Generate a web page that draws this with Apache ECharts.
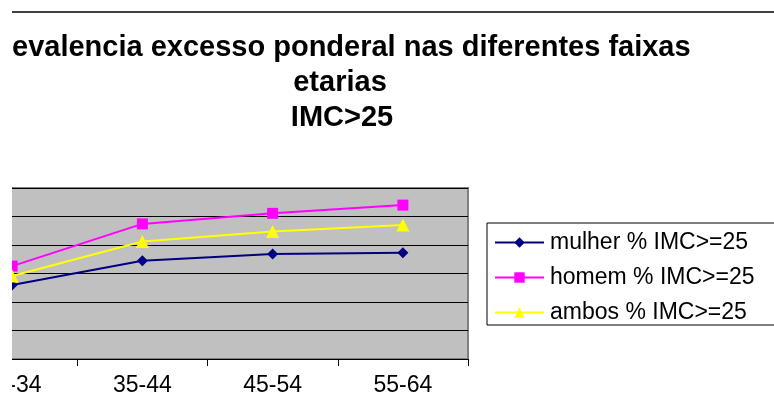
<!DOCTYPE html>
<html>
<head>
<meta charset="utf-8">
<script src="https://cdn.jsdelivr.net/npm/echarts@6/dist/echarts.min.js"></script>
<style>
html,body{margin:0;padding:0;background:#fff;}
#chart{width:774px;height:401px;}
</style>
</head>
<body>
<div id="chart"></div>
<script>
var categories = ['25-34', '35-44', '45-54', '55-64'];
var mulher = [26.0, 34.5, 36.8, 37.3];
var homem = [32.6, 47.4, 51.1, 54.0];
var ambos = [29.1, 41.2, 44.7, 47.0];
var seriesNames = ['mulher % IMC>=25', 'homem % IMC>=25', 'ambos % IMC>=25'];
var titleLines = ['evalencia excesso ponderal nas diferentes faixas', 'etarias', 'IMC>25'];

var FONT = 'Liberation Sans, Arial, sans-serif';
var chart = echarts.init(document.getElementById('chart'), null, {renderer: 'canvas'});

var titleStyle = {fontFamily: FONT, fontWeight: 'bold', fontSize: 29, color: '#000', lineHeight: 35};

function mk(name, data, color, symbol, size) {
  return {
    name: name, type: 'line', data: data,
    symbol: symbol, symbolSize: size,
    lineStyle: {color: color, width: 2},
    itemStyle: {color: color},
    animation: false
  };
}

chart.setOption({
  animation: false,
  title: [
    {text: titleLines[0], left: 12, top: 30, padding: 0, textStyle: titleStyle},
    {text: titleLines[1], left: 340, textAlign: 'center', top: 65, padding: 0, textStyle: titleStyle},
    {text: titleLines[2], left: 342, textAlign: 'center', top: 100, padding: 0, textStyle: titleStyle}
  ],
  grid: {
    left: -53, right: 306, top: 188, bottom: 42,
    outerBoundsMode: 'none', containLabel: false,
    show: true, backgroundColor: '#C0C0C0', borderColor: '#808080', borderWidth: 2
  },
  legend: {
    orient: 'vertical', left: 494, top: 231,
    itemWidth: 49, itemHeight: 13, itemGap: 12,
    padding: 0, z: 20,
    data: seriesNames,
    textStyle: {fontFamily: FONT, fontSize: 23, color: '#000', lineHeight: 22, padding: [0, 0, 0, 1]}
  },
  xAxis: {
    type: 'category', data: categories, boundaryGap: true,
    axisLine: {lineStyle: {color: '#000', width: 1}},
    axisTick: {show: true, length: 7, inside: false, lineStyle: {color: '#000'}},
    axisLabel: {fontFamily: FONT, fontSize: 23, color: '#000', margin: 15}
  },
  yAxis: {
    type: 'value', min: 0, max: 60, interval: 10,
    axisLine: {show: false}, axisTick: {show: false}, axisLabel: {show: false},
    splitLine: {lineStyle: {color: '#000', width: 1}}
  },
  graphic: [
    {type: 'rect', shape: {x: 487, y: 223, width: 320, height: 102}, style: {fill: '#fff', stroke: '#000', lineWidth: 1}, z: 10},
    {type: 'line', shape: {x1: 12, y1: 12, x2: 774, y2: 12}, style: {stroke: '#404040', lineWidth: 2}, z: 10},
    {type: 'rect', shape: {x: 0, y: 0, width: 12, height: 401}, style: {fill: '#fff'}, z: 100}
  ],
  series: [
    mk(seriesNames[0], mulher, '#000080', 'diamond', 11),
    mk(seriesNames[1], homem, '#FF00FF', 'rect', 11),
    mk(seriesNames[2], ambos, '#FFFF00', 'triangle', 13)
  ]
});
</script>
</body>
</html>
